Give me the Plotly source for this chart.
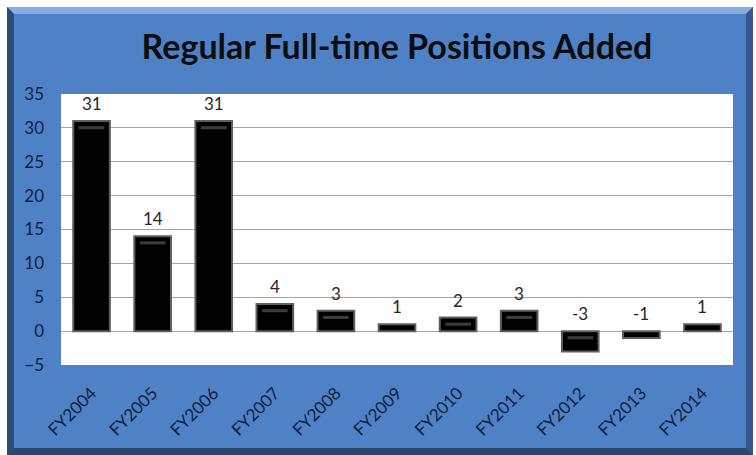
import plotly.graph_objects as go

categories = ["FY2004", "FY2005", "FY2006", "FY2007", "FY2008", "FY2009",
              "FY2010", "FY2011", "FY2012", "FY2013", "FY2014"]
positions_added = [31, 14, 31, 4, 3, 1, 2, 3, -3, -1, 1]
y_ticks = [-5, 0, 5, 10, 15, 20, 25, 30, 35]
title_text = "Regular Full-time Positions Added"

W, H = 756, 455
ML, MR, MT, MB = 61, 23, 94, 90
PW, PH = W - ML - MR, H - MT - MB


def px(x):
    return (x - ML) / PW


def py(y):
    return 1 - (y - MT) / PH


fig = go.Figure()

fig.add_trace(go.Bar(
    x=categories, y=positions_added, width=0.6,
    marker=dict(color="#000000", line=dict(color="#5f5f5f", width=2)),
    hoverinfo="x+y", showlegend=False,
))

# subtle bevel highlight near the top of each bar
hl_x = [c for c, v in zip(categories, positions_added) if abs(v) >= 2]
hl_base = [max(v, 0) - 1.2 for v in positions_added if abs(v) >= 2]
fig.add_trace(go.Bar(
    x=hl_x, y=[0.45] * len(hl_x), base=hl_base, width=0.42,
    marker=dict(color="#3c3c3c", line=dict(width=0)),
    hoverinfo="skip", showlegend=False,
))

annotations = [
    dict(x=c, y=max(v, 0), xref="x", yref="y", text=str(v), showarrow=False,
         yanchor="bottom", yshift=5,
         font=dict(family="Lato", size=17, color="#262626"))
    for c, v in zip(categories, positions_added)
]

shapes = []
# blue panel
shapes.append(dict(type="rect", xref="paper", yref="paper", layer="below",
                   x0=px(7), x1=px(753), y0=py(455), y1=py(7),
                   fillcolor="#4f81c6", line=dict(width=0)))


def poly(points, color):
    path = "M " + " L ".join(f"{px(a)},{py(b)}" for a, b in points) + " Z"
    shapes.append(dict(type="path", xref="paper", yref="paper", layer="below",
                       path=path, fillcolor=color, line=dict(width=0)))


poly([(7, 7), (753, 7), (746, 14), (14, 14)], "#86aee3")
poly([(7, 7), (14, 14), (14, 448), (7, 455)], "#2c4b7a")
poly([(753, 7), (753, 455), (746, 448), (746, 14)], "#34588e")
poly([(7, 455), (14, 448), (746, 448), (753, 455)], "#2a456e")
# white plot area
shapes.append(dict(type="rect", xref="paper", yref="paper", layer="below",
                   x0=0, x1=1, y0=0, y1=1,
                   fillcolor="#ffffff", line=dict(width=0)))

fig.update_layout(
    width=W, height=H,
    margin=dict(l=ML, r=MR, t=MT, b=MB),
    paper_bgcolor="#ffffff", plot_bgcolor="#ffffff",
    barmode="overlay", bargap=0.4,
    shapes=shapes, annotations=annotations,
    title=dict(text="<b>" + title_text + "</b>", x=0.5, xref="paper",
               xanchor="center", y=1 - 47 / H, yanchor="middle",
               font=dict(family="Lato", size=34, color="#0d0d0d")),
    xaxis=dict(categoryorder="array", categoryarray=categories,
               tickangle=-45, showgrid=False, showline=False, ticks="",
               ticklabelstandoff=14,
               tickfont=dict(family="Lato", size=17, color="#10213f"),
               fixedrange=True),
    yaxis=dict(range=[-5, 35], tickvals=y_ticks, showgrid=True,
               gridcolor="#a6a6a6", gridwidth=1, zeroline=True,
               zerolinecolor="#a6a6a6", zerolinewidth=1, ticks="",
               ticklabelstandoff=16,
               tickfont=dict(family="Lato", size=17, color="#10213f"),
               fixedrange=True),
)

fig.write_html("out.html", config={"displayModeBar": False},
               post_script="document.body.style.margin='0';"
                           "document.body.style.padding='0';")
